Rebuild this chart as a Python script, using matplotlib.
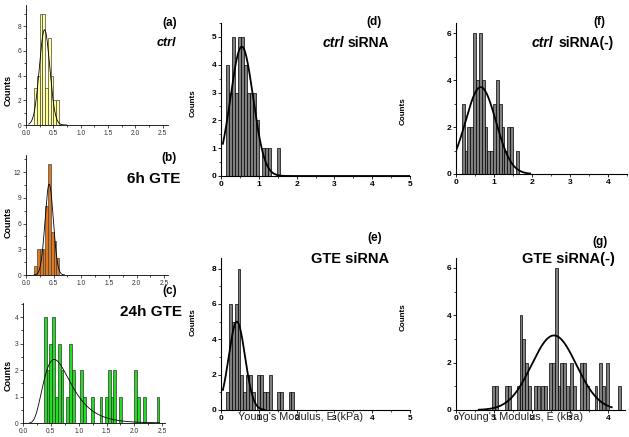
import numpy as np
import matplotlib.pyplot as plt
from matplotlib.ticker import MultipleLocator

plt.rcParams['font.family'] = ['Liberation Sans', 'DejaVu Sans']

# (a) ctrl
a_edges = [0.15, 0.20, 0.25, 0.30, 0.35, 0.40, 0.45, 0.50, 0.55]
a_counts = [3, 4, 9, 9, 3, 7, 4, 2, 2]
a_width = 0.05
a_fit = (7.7, 0.34, 0.095)          # amplitude, centre, sigma

# (b) 6h GTE
b_edges = [0.15, 0.20, 0.25, 0.30, 0.35, 0.40, 0.45, 0.50, 0.55]
b_counts = [1, 3, 3, 3, 8, 13, 5, 4, 2]
b_width = 0.05
b_fit = (10.6, 0.42, 0.075)

# (c) 24h GTE
c_edges = [0.375, 0.425, 0.475, 0.525, 0.575, 0.625, 0.675, 0.775, 0.825, 0.875,
           1.025, 1.075, 1.225, 1.375, 1.475, 1.525, 1.575, 1.625, 1.725,
           2.0, 2.05, 2.15, 2.4]
c_counts = [4, 2, 3, 4, 1, 3, 2, 1, 3, 2,
            2, 1, 1, 1, 1, 2, 1, 2, 1,
            2, 1, 1, 1]
c_width = 0.05
c_fit = (2.4, 0.56, 0.44)          # log-normal: amplitude, xc, w

# (d) ctrl siRNA
d_edges = [0.12, 0.20, 0.28, 0.36, 0.44, 0.52, 0.60, 0.68, 0.76, 0.84, 0.92,
           1.08, 1.16, 1.24, 1.48]
d_counts = [4, 3, 5, 3, 5, 5, 4, 3, 3, 3, 2, 1, 1, 1, 1]
d_width = 0.08
d_fit = (4.65, 0.55, 0.30)

# (e) GTE siRNA
e_edges = [0.14, 0.215, 0.29, 0.365, 0.44, 0.515, 0.59, 0.665, 0.74, 0.815,
           0.965, 1.04, 1.115, 1.19, 1.265, 1.49, 1.565, 1.79, 1.865]
e_counts = [1, 6, 5, 6, 8, 2, 1, 2, 2, 1, 2, 2, 1, 1, 2, 1, 1, 1, 1]
e_width = 0.075
e_fit = (5.0, 0.42, 0.215)

# (f) ctrl siRNA(-)
f_edges = [0.15, 0.225, 0.30, 0.375, 0.45, 0.525, 0.60, 0.675, 0.75, 0.825,
           0.90, 0.975, 1.05, 1.125, 1.20, 1.275, 1.35, 1.425, 1.575]
f_counts = [3, 1, 2, 2, 6, 4, 6, 4, 2, 1, 1, 3, 4, 3, 2, 1, 2, 2, 1]
f_width = 0.075
f_fit = (3.7, 0.65, 0.40)

# (g) GTE siRNA(-)
g_edges = [0.95, 1.025, 1.30, 1.375, 1.60, 1.675, 1.75, 1.825, 1.90, 2.05, 2.125,
           2.25, 2.325, 2.45, 2.525, 2.60, 2.675, 2.75, 2.825, 2.90, 3.00, 3.075,
           3.275, 3.35, 3.425, 3.65, 3.775, 3.85, 3.95, 4.275]
g_counts = [1, 1, 1, 1, 1, 4, 3, 2, 1, 1, 1,
            1, 1, 2, 2, 6, 1, 2, 2, 1, 2, 1,
            2, 2, 1, 1, 2, 1, 2, 1]
g_width = 0.075
g_fit = (3.15, 2.58, 0.59)

W, H = 629, 437
fig = plt.figure(figsize=(W / 100, H / 100), dpi=100)


def px_axes(l, r, b, t):
    return fig.add_axes([l / W, 1 - b / H, (r - l) / W, (b - t) / H])


def gauss(x, p):
    amp, mu, s = p
    return amp * np.exp(-(x - mu) ** 2 / (2 * s ** 2))


def style(ax, xlim, ylim, xmaj, xmin, ymaj, ymin, small):
    ax.set_xlim(*xlim)
    ax.set_ylim(*ylim)
    ax.spines['top'].set_visible(False)
    ax.spines['right'].set_visible(False)
    for s in ('left', 'bottom'):
        ax.spines[s].set_linewidth(0.6 if small else 0.8)
    ax.xaxis.set_major_locator(MultipleLocator(xmaj))
    ax.xaxis.set_minor_locator(MultipleLocator(xmin))
    ax.yaxis.set_major_locator(MultipleLocator(ymaj))
    ax.yaxis.set_minor_locator(MultipleLocator(ymin))
    ax.tick_params(which='major', direction='out', length=2.5, width=0.6, pad=1)
    ax.tick_params(which='minor', direction='out', length=1.5, width=0.5)
    if small:
        ax.tick_params(labelsize=4.8, colors='#333333')
    else:
        ax.tick_params(labelsize=6)
        for lab in ax.get_xticklabels() + ax.get_yticklabels():
            lab.set_fontweight('bold')


# left column
ax_a = px_axes(26, 168, 125, 5)
ax_a.bar(a_edges, a_counts, width=a_width, align='edge', color='#FFFF99',
         edgecolor='#444444', linewidth=0.5)
xa = np.linspace(0.05, 0.75, 200)
ax_a.plot(xa, gauss(xa, a_fit), color='k', lw=0.6)
style(ax_a, (0, 2.6), (0, 9.7), 0.5, 0.25, 2, 1, True)
ax_a.xaxis.set_major_formatter(plt.FormatStrFormatter('%.1f'))

ax_b = px_axes(26, 168, 275, 155)
ax_b.bar(b_edges, b_counts, width=b_width, align='edge', color='#E07820',
         edgecolor='#444444', linewidth=0.5)
xb = np.linspace(0.15, 0.7, 200)
ax_b.plot(xb, gauss(xb, b_fit), color='k', lw=0.6)
style(ax_b, (0, 2.57), (0, 14), 0.5, 0.25, 3, 1.5, True)
ax_b.xaxis.set_major_formatter(plt.FormatStrFormatter('%.1f'))

ax_c = px_axes(23, 165, 423, 303)
ax_c.bar(c_edges, c_counts, width=c_width, align='edge', color='#22DD22',
         edgecolor='#333333', linewidth=0.5)
xc = np.linspace(0.12, 2.45, 300)
amp, xcen, w = c_fit
ax_c.plot(xc, amp * np.exp(-np.log(xc / xcen) ** 2 / (2 * w ** 2)), color='k', lw=0.6)
style(ax_c, (0, 2.55), (0, 4.53), 0.5, 0.25, 1, 0.5, True)
ax_c.xaxis.set_major_formatter(plt.FormatStrFormatter('%.1f'))

# middle and right columns
gray = '#7F7F7F'
ax_d = px_axes(221, 410, 176, 23)
ax_d.bar(d_edges, d_counts, width=d_width, align='edge', color=gray,
         edgecolor='k', linewidth=0.5)
xd = np.linspace(0.05, 5, 400)
ax_d.plot(xd, gauss(xd, d_fit), color='k', lw=1.3)
style(ax_d, (0, 5), (0, 5.5), 1, 0.5, 1, 0.5, False)

ax_e = px_axes(221, 410, 410, 258)
ax_e.bar(e_edges, e_counts, width=e_width, align='edge', color=gray,
         edgecolor='k', linewidth=0.5)
xe = np.linspace(0.05, 1.15, 200)
ax_e.plot(xe, gauss(xe, e_fit), color='k', lw=1.3)
style(ax_e, (0, 5), (0, 8.6), 1, 0.5, 2, 1, False)

ax_f = px_axes(456, 627, 174, 23)
ax_f.bar(f_edges, f_counts, width=f_width, align='edge', color=gray,
         edgecolor='k', linewidth=0.5)
xf = np.linspace(0.0, 1.95, 200)
ax_f.plot(xf, gauss(xf, f_fit), color='k', lw=1.3)
style(ax_f, (0, 4.5), (0, 6.43), 1, 0.5, 2, 1, False)

ax_g = px_axes(456, 625, 410, 258)
ax_g.bar(g_edges, g_counts, width=g_width, align='edge', color=gray,
         edgecolor='k', linewidth=0.5)
xg = np.linspace(0.6, 4.1, 300)
ax_g.plot(xg, gauss(xg, g_fit), color='k', lw=1.3)
style(ax_g, (0, 4.45), (0, 6.42), 1, 0.5, 2, 1, False)

# panel letters and titles
def ftxt(x, y, s, **kw):
    fig.text(x / W, 1 - y / H, s, fontweight='bold', va='center', **kw)

ftxt(177, 23, '(a)', ha='right', fontsize=8.5)
ftxt(176, 43, 'ctrl', ha='right', fontsize=9, style='italic')
ftxt(177, 158, '(b)', ha='right', fontsize=8.5)
ftxt(180, 179, '6h GTE', ha='right', fontsize=11)
ftxt(177, 291, '(c)', ha='right', fontsize=8.5)
ftxt(182, 312, '24h GTE', ha='right', fontsize=11)

ftxt(382, 22, '(d)', ha='right', fontsize=8.5)
ftxt(344, 43, 'ctrl', ha='right', fontsize=10, style='italic')
ftxt(389, 43, 'siRNA', ha='right', fontsize=10)
ftxt(382, 238, '(e)', ha='right', fontsize=8.5)
ftxt(389, 259, 'GTE siRNA', ha='right', fontsize=10.5)
ftxt(605, 22, '(f)', ha='right', fontsize=8.5)
ftxt(553, 43, 'ctrl', ha='right', fontsize=10, style='italic')
ftxt(614, 43, 'siRNA(-)', ha='right', fontsize=10)
ftxt(608, 242, '(g)', ha='right', fontsize=8.5)
ftxt(615, 259, 'GTE siRNA(-)', ha='right', fontsize=10.5)

# axis labels
for x, y, fs in [(8, 90, 6.5), (8, 222, 6.5), (8, 375, 6.5),
                 (193, 103, 5.8), (193, 322, 5.8), (403, 111, 5.8), (403, 317, 5.8)]:
    fig.text(x / W, 1 - y / H, 'Counts', rotation=90, ha='center', va='center',
             fontsize=fs, fontweight='bold')

for x in (300, 520):
    fig.text(x / W, 1 - 417 / H, "Young's Modulus, E (kPa)", ha='center', va='center',
             fontsize=7.8, color='#222222')

fig.savefig('out.png', dpi=100)
